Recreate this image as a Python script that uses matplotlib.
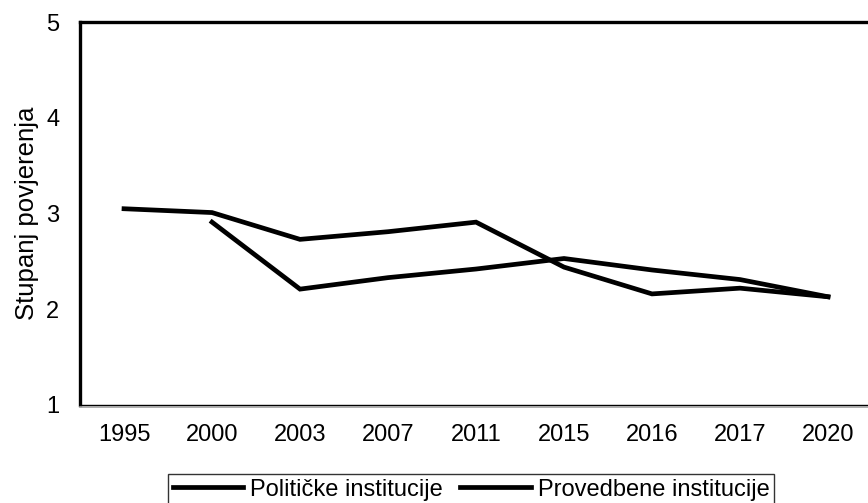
import matplotlib
matplotlib.use("Agg")
import matplotlib.pyplot as plt
from matplotlib.lines import Line2D

plt.rcParams["font.family"] = ["Liberation Sans", "DejaVu Sans"]

# ── podaci ────────────────────────────────────────────────────────────────────
godine = ["1995", "2000", "2003", "2007", "2011", "2015", "2016", "2017", "2020"]
politicke = [3.05, 3.01, 2.73, 2.81, 2.91, 2.44, 2.16, 2.22, 2.13]
provedbene = [None, 2.91, 2.21, 2.33, 2.42, 2.53, 2.41, 2.31, 2.13]
y_ticks = [1, 2, 3, 4, 5]

fig = plt.figure(figsize=(8.68, 5.03), dpi=100)
ax = fig.add_axes([0.0922, 0.195, 0.9124, 0.761])

x = list(range(len(godine)))
ax.plot(x, politicke, color="black", lw=3.4, solid_joinstyle="miter",
        label="Političke institucije")
x2 = [i for i, v in zip(x, provedbene) if v is not None]
v2 = [v for v in provedbene if v is not None]
ax.plot(x2, v2, color="black", lw=3.4, solid_joinstyle="miter",
        label="Provedbene institucije")

ax.set_xlim(-0.5, len(godine) - 0.5)
ax.set_ylim(1, 5)
ax.set_xticks(x)
ax.set_xticklabels(godine)
ax.set_yticks(y_ticks)
ax.tick_params(axis="both", length=0, labelsize=17)
ax.tick_params(axis="x", pad=14)
ax.tick_params(axis="y", pad=15)
ax.set_ylabel("Stupanj povjerenja", fontsize=18.5, labelpad=5)

for s in ("left", "top"):
    ax.spines[s].set_linewidth(2.4)
    ax.spines[s].set_color("black")
ax.spines["right"].set_visible(False)
ax.spines["bottom"].set_linewidth(1.0)
ax.spines["bottom"].set_color("black")

# sivi rub ispod osi x
fig.add_artist(Line2D([0.0922, 1.0], [0.190, 0.190], color="#a0a0a0", lw=1.2))

leg = fig.legend(loc="upper center", bbox_to_anchor=(0.5426, 0.0577), ncol=2,
                 fontsize=17, frameon=True, fancybox=False, handlelength=3.0,
                 handletextpad=0.3, columnspacing=0.7, borderpad=0.2,
                 borderaxespad=0)
leg.get_frame().set_edgecolor("black")
leg.get_frame().set_linewidth(1.0)

fig.savefig("out.png", dpi=100)
